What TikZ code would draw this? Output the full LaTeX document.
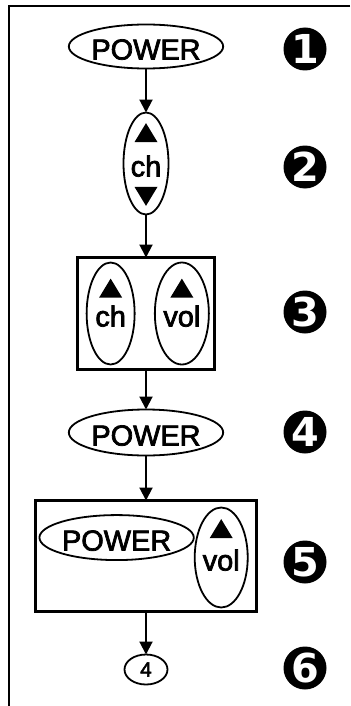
\documentclass[tikz,border=0pt]{standalone}
\usepackage{fontspec}
\setmainfont{Liberation Sans}
\newfontfamily\keyfont[FakeBold=2.5]{Liberation Sans}
\newfontfamily\badgefont{DejaVu Sans}
\usetikzlibrary{arrows.meta,positioning,shapes.geometric}
\tikzset{
  x=1bp, y=1bp,
  key/.style={ellipse, draw=black, line width=1.8bp, inner sep=0pt, outer sep=0pt, text height=26bp, text depth=0pt, font=\keyfont\fontsize{29}{29}\selectfont},
  keywide/.style={key, minimum width=150bp, minimum height=44bp},
  keytall/.style={key, minimum width=#1, minimum height=102bp},
  keytall/.default=48bp,
  keysmall/.style={ellipse, draw=black, line width=1.8bp, inner sep=0pt, outer sep=0pt, minimum width=43bp, minimum height=30bp, font=\keyfont\fontsize{21}{21}\selectfont},
  panel/.style={draw=black, line width=2.2bp, inner sep=0pt, outer sep=0pt},
  badge/.style={circle, fill=black, text=white, minimum size=43bp, inner sep=0pt, font=\badgefont\bfseries\fontsize{40}{40}\selectfont},
  arrow/.style={-{Triangle[length=13bp, width=13bp]}, line width=2bp},
  frame/.style={line width=2.4bp}
}
% filled button arrows inside a key
\newcommand{\uptri}[2]{\fill ([yshift=#2]#1.center) +(-11.5,-9.5) -- +(11.5,-9.5) -- +(0,9.5) -- cycle;}
\newcommand{\downtri}[2]{\fill ([yshift=#2]#1.center) +(-11.5,9.5) -- +(11.5,9.5) -- +(0,-9.5) -- cycle;}
\begin{document}
\begin{tikzpicture}
\useasboundingbox (0,0) rectangle (350,-706);
\draw[frame] (350,-6) -- (9,-6) -- (9,-706);
% main chain
\node[keywide] (pw1) at (146,-46.5) {POWER};
\node[keytall=45bp, below=44bp of pw1] (ch1) {ch};
\node[panel, minimum width=137bp, minimum height=112bp, below=43bp of ch1] (box3) {};
\node[keytall] (ch2) at ([xshift=-35.5]box3.center) {ch};
\node[keytall=54bp] (vol1) at ([xshift=36]box3.center) {vol};
\node[keywide, minimum height=46bp, below=40bp of box3] (pw2) {POWER};
\node[panel, minimum width=221bp, minimum height=111bp, below=45bp of pw2] (box5) {};
\node[keywide, minimum height=45bp] (pw3) at ([xshift=-29.5,yshift=18.5]box5.center) {POWER};
\node[keytall=53bp, minimum height=100bp] (vol2) at ([xshift=75.5,yshift=-1.5]box5.center) {vol};
\node[keysmall, below=43bp of box5] (e4) {4};
\uptri{ch1}{31}
\downtri{ch1}{-33}
\uptri{ch2}{25.5}
\uptri{vol1}{25.5}
\uptri{vol2}{29}
\foreach \a/\b in {pw1/ch1,ch1/box3,box3/pw2,pw2/box5,box5/e4} \draw[arrow] (\a) -- (\b);
% step numbers
\foreach \n/\y in {1/49,2/167,3/312,4/432,5/562,6/668} \node[badge] (b\n) at (305,-\y) {\n};
\end{tikzpicture}
\end{document}
